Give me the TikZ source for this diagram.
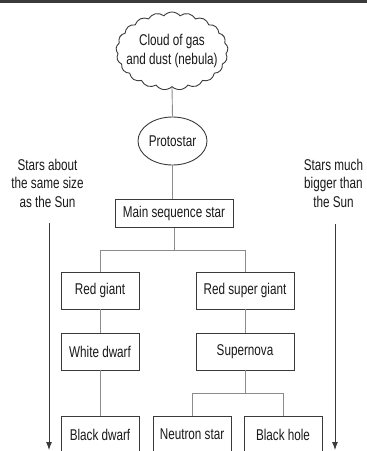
\documentclass[tikz,border=0pt]{standalone}
\usepackage{fontspec}
\setmainfont{Liberation Sans}[FakeStretch=0.75]
\usetikzlibrary{shapes.geometric}
\usetikzlibrary{shapes.symbols}
\usetikzlibrary{arrows.meta}
\definecolor{boxgray}{HTML}{3A3A3A}
\definecolor{linkgray}{HTML}{8C8C8C}
\tikzset{>={Latex[length=8pt,width=6pt]}}

\begin{document}
\begin{tikzpicture}[x=1pt, y=-1pt,
    lbl/.style={font=\fontsize{15.6}{18.5}\selectfont, text=black!90, align=center},
    stage/.style={lbl, draw=boxgray, line width=0.9pt, minimum height=37pt, inner sep=1pt},
    link/.style={draw=linkgray, line width=0.9pt},
    route/.style={draw=boxgray, line width=0.9pt, ->}]
      \useasboundingbox (0,0) rectangle (367,451);
      \clip (0,0) rectangle (367,451);
      \fill[boxgray] (0,0) rectangle (367,2.5);

      % formation
      \node[cloud, draw=boxgray, line width=0.9pt, cloud puffs=21, cloud puff arc=100,
            minimum width=112pt, minimum height=78pt, inner sep=0pt,
            label={[lbl]center:Cloud of gas\\and dust (nebula)}] (nebula) at (172,51) {};
      \node[lbl, ellipse, draw=boxgray, line width=0.9pt, minimum width=69pt,
            minimum height=48pt, inner sep=0pt] (proto) at (172.5,141) {Protostar};
      \node[stage, minimum width=118pt, minimum height=28pt] (main) at (174,213.5) {Main sequence star};

      % small stars
      \node[stage, minimum width=78pt] (redg) at (100,290.5) {Red giant};
      \node[stage, minimum width=78pt] (whited) at (100,351.5) {White dwarf};
      \node[stage, minimum width=78pt] (blackd) at (100,434.5) {Black dwarf};

      % big stars
      \node[stage, minimum width=98pt] (redsg) at (245,290.5) {Red super giant};
      \node[stage, minimum width=98pt] (snova) at (245,351.5) {Supernova};
      \node[stage, minimum width=78pt] (neutron) at (192,434.5) {Neutron star};
      \node[stage, minimum width=78pt] (bhole) at (283,434.5) {Black hole};

      \draw[link] (nebula.south) -- (proto.north);
      \draw[link] (proto.south) -- (proto.south |- main.north);
      \draw[link] (main.south) -- ++(0,22) -| (redg.north);
      \draw[link] (main.south) -- ++(0,22) -| (redsg.north);
      \draw[link] (redg) -- (whited);
      \draw[link] (whited) -- (blackd);
      \draw[link] (redsg) -- (snova);
      \draw[link] (snova.south) -- ++(0,23) -| (neutron.north);
      \draw[link] (snova.south) -- ++(0,23) -| (bhole.north);

      % the two paths
      \node[lbl] (small) at (47.5,183) {Stars about\\the same size\\as the Sun};
      \node[lbl] (big) at (333.5,183) {Stars much\\bigger than\\the Sun};
      \coordinate (smalltop) at (49,223);
      \coordinate (smallend) at (49,450);
      \coordinate (bigtop) at (335,224);
      \coordinate (bigend) at (335,450);
      \draw[route] (smalltop) -- (smallend);
      \draw[route] (bigtop) -- (bigend);
\end{tikzpicture}
\end{document}
